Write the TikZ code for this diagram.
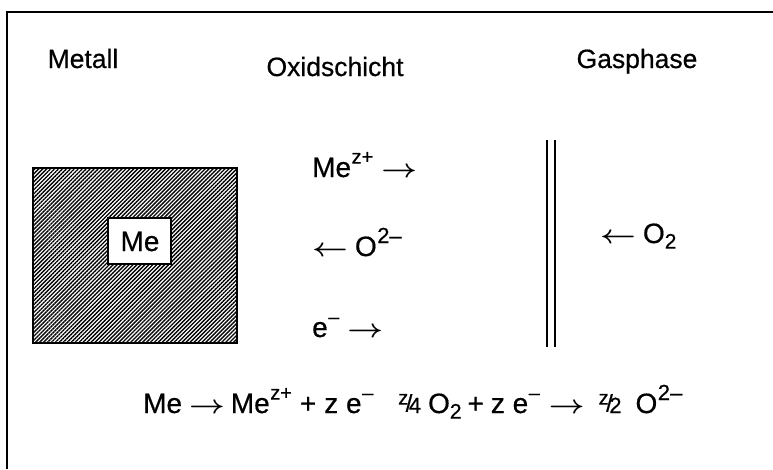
\documentclass[tikz,border=0pt]{standalone}
\usepackage{fontspec}
\setmainfont[FakeBold=0.5]{Liberation Sans}
\usetikzlibrary{patterns.meta}
\newcommand{\ra}{\scalebox{1.25}[1.05]{\boldmath$\rightarrow$}}
\newcommand{\la}{\scalebox{1.25}[1.05]{\boldmath$\leftarrow$}}
\newcommand{\sups}[1]{\kern0.5pt\raisebox{0.48em}{\fontsize{20}{20}\selectfont #1}}
\newcommand{\supb}[1]{\kern0.5pt\raisebox{0.46em}{\fontsize{22}{22}\selectfont #1}}
\newcommand{\subs}[1]{\raisebox{-0.2em}{\fontsize{21}{21}\selectfont #1}}
\newcommand{\myfrac}[2]{\raisebox{0.3em}{\fontsize{20}{20}\selectfont #1}\kern-2.5pt\raisebox{0.05em}{\fontsize{24}{24}\selectfont/}\kern-3.5pt{\fontsize{22}{22}\selectfont #2}}
\tikzset{
  txt/.style={inner sep=0pt, font=\fontsize{28}{32}\selectfont},
  head/.style={inner sep=0pt, font=\fontsize{26.5}{30}\selectfont},
  frameline/.style={line width=2pt},
  wall/.style={line width=1.5pt}
}
\begin{document}
\begin{tikzpicture}[x=1pt,y=-1pt]
\useasboundingbox (0,0) rectangle (773,469);
% frame
\coordinate (ftl) at (7,12);
\coordinate (ftr) at (773,12);
\coordinate (fbl) at (7,469);
\draw[frameline] (ftr) -- (ftl) -- (fbl);
% headings
\node[head,anchor=base] (metall) at (83,68) {Metall};
\node[head,anchor=base] (oxid) at (335,76) {Oxidschicht};
\node[head,anchor=base] (gas) at (637,68) {Gasphase};
% metal block
\path[pattern={Lines[angle=45,distance=2.8pt,line width=1.35pt]}] (33,168) rectangle (237,343);
\draw[line width=1.3pt] (33,168) rectangle (237,343);
\draw[line width=1.1pt,fill=white] (108,218) rectangle (171,264);
\node[txt,anchor=base] (me) at (140,251) {Me};
% oxide layer species
\node[txt,anchor=base west] (mez) at (312,177) {Me\sups{z+}\hspace{8pt}\ra};
\node[txt,anchor=base west] (o2m) at (312,256) {\la\hspace{7pt}O\supb{2–}};
\node[txt,anchor=base west] (el) at (312,337) {e\sups{–}\hspace{8pt}\ra};
% interface double line
\draw[wall] (547,140) -- (547,347);
\draw[wall] (555,140) -- (555,347);
% gas
\node[txt,anchor=base west] (o2) at (600,243) {\la\hspace{7pt}O\subs{2}};
% equations
\node[txt,anchor=base west] (eq1) at (143,413) {Me\hspace{7pt}\ra\hspace{6pt}Me\sups{z+}\hspace{8pt}+\hspace{8pt}z e\sups{–}};
\node[txt,anchor=base west] (eq2) at (398,413) {\myfrac{z}{4}\hspace{7pt}O\subs{2}\hspace{6pt}+\hspace{7pt}z e\sups{–}\hspace{9pt}\ra\hspace{14pt}\myfrac{z}{2}\hspace{14pt}O\supb{2–}};
\end{tikzpicture}
\end{document}
